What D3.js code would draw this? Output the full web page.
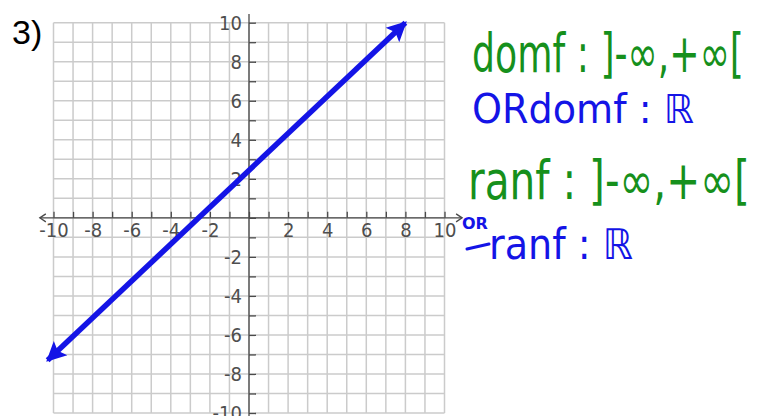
<!DOCTYPE html>
<meta charset="utf-8">
<style>
body { margin: 0; background: #fff; }
svg { display: block; }
.grid line { stroke: #cbcbcb; stroke-width: 1.5; }
.axis line, .axis path { stroke: #4a4a4a; stroke-width: 1.3; }
.hand { font-family: "DejaVu Sans", sans-serif; }
</style>
<svg id="chart" width="758" height="416"></svg>

<script src="https://d3js.org/d3.v7.min.js"></script>
<script>
// ********** DATA **********
var gridValues = d3.range(-10, 11);           // one grid line per unit
var labelValues = [-10, -8, -6, -4, -2, 2, 4, 6, 8, 10];
var lineX = [-10.3, 8];                        // arrow tips of the graphed line
var lineY = [-7.3, 10];
var notes = [
  { text: "domf : ]-\u221e,+\u221e[", color: "#16901c" },
  { text: "ORdomf : \u211d", color: "#1414e6" },
  { text: "ranf : ]-\u221e,+\u221e[", color: "#16901c" },
  { text: "OR", color: "#1414e6" },
  { text: "ranf : \u211d", color: "#1414e6" }
];

// ********** D3 **********
var svg = d3.select("#chart");

var x = d3.scaleLinear().domain([-10, 10]).range([53.5, 444.5]);
var y = d3.scaleLinear().domain([-10, 10]).range([413, 22.7]);

// grid
var grid = svg.append("g").attr("class", "grid");
grid.selectAll("line.v").data(gridValues).enter().append("line")
  .attr("x1", function (d) { return x(d); }).attr("x2", function (d) { return x(d); })
  .attr("y1", y(10)).attr("y2", y(-10));
grid.selectAll("line.h").data(gridValues).enter().append("line")
  .attr("y1", function (d) { return y(d); }).attr("y2", function (d) { return y(d); })
  .attr("x1", x(-10)).attr("x2", x(10));

function fmt(d) { return labelValues.indexOf(d) >= 0 ? d : ""; }

function styleLabels(g) {
  g.attr("font-family", null).attr("font-size", null);
  g.selectAll("text")
    .style("font-family", "'Liberation Sans Narrow', 'DejaVu Sans Condensed', Arial, sans-serif")
    .style("font-size", "20px")
    .style("fill", "#4e4e4e");
}

// x axis: ticks point up, labels below
var xAxis = svg.append("g").attr("class", "axis")
  .attr("transform", "translate(0," + y(0) + ")")
  .call(d3.axisBottom(x).tickValues(gridValues).tickSize(-6).tickPadding(5).tickFormat(fmt))
  .call(styleLabels);
xAxis.select(".domain").remove();
xAxis.append("line").attr("x1", x(-10.7)).attr("x2", x(10.9));
xAxis.append("path").attr("fill", "none")
  .attr("d", "M" + (x(-10.7) + 6) + ",-4L" + x(-10.7) + ",0L" + (x(-10.7) + 6) + ",4");
xAxis.append("path").attr("fill", "none")
  .attr("d", "M" + (x(10.9) - 6) + ",-4L" + x(10.9) + ",0L" + (x(10.9) - 6) + ",4");

// y axis: ticks point right, labels left
var yAxis = svg.append("g").attr("class", "axis")
  .attr("transform", "translate(" + x(0) + ",0)")
  .call(d3.axisLeft(y).tickValues(gridValues).tickSize(-7).tickPadding(7).tickFormat(fmt))
  .call(styleLabels);
yAxis.select(".domain").remove();
yAxis.append("line").attr("y1", y(10.45)).attr("y2", y(-10.3));

// the graphed line with arrow heads on both ends
var defs = svg.append("defs");
defs.append("marker").attr("id", "arrow")
  .attr("viewBox", "0 0 10 10").attr("refX", 9).attr("refY", 5)
  .attr("markerWidth", 4.2).attr("markerHeight", 3.6)
  .attr("orient", "auto-start-reverse")
  .append("path").attr("d", "M0,0L10,5L0,10L2,5Z").attr("fill", "#1414e6");

var pts = lineX.map(function (d, i) { return [d, lineY[i]]; });
svg.append("path")
  .datum(pts)
  .attr("fill", "none")
  .attr("stroke", "#1414e6")
  .attr("stroke-width", 5.5)
  .attr("marker-start", "url(#arrow)")
  .attr("marker-end", "url(#arrow)")
  .attr("d", d3.line().x(function (d) { return x(d[0]); }).y(function (d) { return y(d[1]); }));

// problem number
svg.append("text").attr("x", 12).attr("y", 44)
  .style("font-family", "Liberation Sans, Arial, sans-serif").style("font-size", "34px")
  .text("3)");

// handwritten notes: sized, then squeezed/stretched into the spot they take in the picture
var notePos = [
  { x: 472, y: 72, size: 46, sy: 1.15, w: 272 },
  { x: 472, y: 123, size: 40, sy: 1.0, w: 222 },
  { x: 468, y: 199, size: 46, sy: 1.15, w: 282 },
  { x: 462, y: 229, size: 15, sy: 1.0, w: 26 },
  { x: 489, y: 259, size: 40, sy: 1.05, w: 144 }
];
svg.selectAll("text.hand").data(notes).enter().append("text")
  .attr("class", "hand")
  .style("font-size", function (d, i) { return notePos[i].size + "px"; })
  .style("font-weight", function (d, i) { return i == 3 ? "bold" : "normal"; })
  .style("fill", function (d) { return d.color; })
  .text(function (d) { return d.text; })
  .attr("transform", function (d, i) {
    var p = notePos[i], len = this.getComputedTextLength();
    return "translate(" + p.x + "," + p.y + ")scale(" + (p.w / len) + "," + p.sy + ")";
  });

// stray stroke in front of the last note
svg.append("path")
  .attr("d", "M467,249L489,244")
  .attr("stroke", "#1414e6").attr("stroke-width", 3).attr("stroke-linecap", "round");
</script>
